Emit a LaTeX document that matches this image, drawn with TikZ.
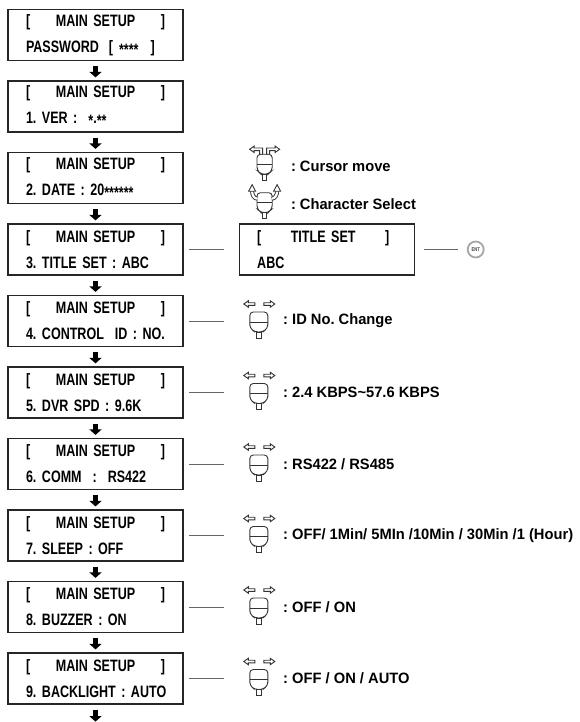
\documentclass[tikz,border=0pt]{standalone}
\usepackage{fontspec}
\setmainfont{Liberation Sans}
\newfontfamily\lcdfont[FakeStretch=0.76, WordSpace=0.9]{Liberation Sans}
\newfontfamily\notefont[FakeStretch=0.98]{Liberation Sans}
\usetikzlibrary{positioning,arrows.meta}
\frenchspacing
\newcommand{\lcdstar}{\raisebox{-3pt}{*}}
\newcommand{\lcdhead}[2][139pt]{\makebox[#1]{[\hfill #2\hfill]}}
\newcommand{\menu}[1]{\lcdhead{MAIN SETUP}\\\mbox{#1}}
\tikzset{
  lcd/.style={draw=black!85, line width=1.2pt, minimum width=175pt, minimum height=51pt,
    text width=139pt, align=left, inner xsep=0pt, font=\lcdfont\bfseries\fontsize{16.5}{26}\selectfont},
  flow/.style={line width=4.5pt, -{Triangle[width=12pt,length=5.5pt]}, shorten <=5pt, shorten >=3pt},
  link/.style={draw=black!60, line width=0.8pt, shorten <=5pt},
  dialbox/.style={minimum width=36pt, minimum height=36pt, inner sep=0pt},
  note/.style={inner sep=0pt, anchor=west, font=\notefont\bfseries\fontsize{15}{17}\selectfont},
  knob/.pic={
    \draw[rounded corners=3.5pt, fill=white] (-9,0) -- (-9,-10) -- (9,-10) -- (9,0) -- (9,6) -- (4,10) -- (-4,10) -- (-9,6) -- cycle;
    \draw (-9,0) -- (9,0);
    \draw[fill=white] (-2.5,10) rectangle (2.5,16);
  },
  leftarrow/.pic={
    \draw[fill=white] (0,0) -- (4.5,-3.2) -- (4.5,-1.3) -- (11,-1.3) -- (11,1.3) -- (4.5,1.3) -- (4.5,3.2) -- cycle;
  },
  jogdial/.pic={
    \begin{scope}[draw=black!80, line width=0.9pt]
      \pic at (0,1) {knob};
      \pic at (-15,-17) {leftarrow};
      \pic[xscale=-1] at (16,-17) {leftarrow};
    \end{scope}
  },
  jogmove/.pic={
    \begin{scope}[draw=black!80, line width=0.9pt]
      \pic[xscale=0.85] at (0,-2) {knob};
      \foreach \s in {1,-1}
        \draw[xscale=\s, fill=white] (-15,-17) -- (-10.5,-20.2) -- (-10.5,-18.3) -- (-2,-18.3) -- (-2,-12)
          -- (-5,-12) -- (-5,-15.7) -- (-10.5,-15.7) -- (-10.5,-13.8) -- cycle;
    \end{scope}
  },
  jogselect/.pic={
    \begin{scope}[draw=black!80, line width=0.9pt]
      \pic[xscale=0.85] at (0,-1) {knob};
      \foreach \s in {1,-1} {
        \draw[xscale=\s, double=white, double distance=2.2pt] (-7,-5) to[out=180, in=-90] (-12.5,-12.5);
        \draw[xscale=\s, fill=white] (-12.5,-19) -- (-16,-12.5) -- (-9,-12.5) -- cycle;
      }
    \end{scope}
  },
}
\begin{document}
\begin{tikzpicture}[x=1pt, y=-1pt]
    \useasboundingbox (0,0) rectangle (580,722);
    % menu column
    \node (s0) [lcd] at (95.5,35) {\menu{PASSWORD\hspace{10pt}[\hspace{6pt}\lcdstar\lcdstar\lcdstar\lcdstar\hspace{12pt}]}};
    \node (s1) [lcd, below=19.3pt of s0] {\menu{1. VER :\ \ \lcdstar.\lcdstar\lcdstar}};
    \node (s2) [lcd, below=19.3pt of s1] {\menu{2. DATE : 20\lcdstar\lcdstar\lcdstar\lcdstar\lcdstar\lcdstar}};
    \node (s3) [lcd, below=19.3pt of s2] {\menu{3. TITLE SET : ABC}};
    \node (s4) [lcd, below=19.3pt of s3] {\menu{4. CONTROL\ \ ID : NO.}};
    \node (s5) [lcd, below=19.3pt of s4] {\menu{5. DVR SPD : 9.6K}};
    \node (s6) [lcd, below=19.3pt of s5] {\menu{6. COMM\ \ :\ \ RS422}};
    \node (s7) [lcd, below=19.3pt of s6] {\menu{7. SLEEP : OFF}};
    \node (s8) [lcd, below=19.3pt of s7] {\menu{8. BUZZER : ON}};
    \node (s9) [lcd, below=19.3pt of s8] {\menu{9. BACKLIGHT : AUTO}};
    \coordinate[below=17pt of s9] (more);
    % title set branch
    \node (title) [lcd, right=55pt of s3] {\lcdhead[132pt]{TITLE SET}\\ABC};
    \node (ent) [circle, draw=black!35, line width=1.8pt, minimum size=16pt, inner sep=0pt, text=black!75,
      font=\lcdfont\bfseries\fontsize{5.5}{6}\selectfont, right=52pt of title] {ENT};
    \node (js) [dialbox, above=1.5pt of title.north west, xshift=26pt] {};
    \node (jc) [dialbox, above=1pt of js] {};
    \node (tc) [note, right=8pt of jc] {: Cursor move};
    \node (ts) [note, right=8pt of js] {: Character Select};
    % value settings
    \node (j4) [dialbox, right=57pt of s4] {};
    \node (d4) [note, right=6pt of j4] {: ID No. Change};
    \node (j5) [dialbox, right=57pt of s5] {};
    \node (d5) [note, right=6pt of j5] {: 2.4 KBPS\textasciitilde57.6 KBPS};
    \node (j6) [dialbox, right=57pt of s6] {};
    \node (d6) [note, right=6pt of j6] {: RS422 / RS485};
    \node (j7) [dialbox, right=57pt of s7] {};
    \node (d7) [note, right=6pt of j7] {: OFF/ 1Min/ 5MIn /10Min / 30Min /1 (Hour)};
    \node (j8) [dialbox, right=57pt of s8] {};
    \node (d8) [note, right=6pt of j8] {: OFF / ON};
    \node (j9) [dialbox, right=57pt of s9] {};
    \node (d9) [note, right=6pt of j9] {: OFF / ON / AUTO};
    % jog dial icons
    \pic at (jc) {jogmove};
    \pic at (js) {jogselect};
    \pic at (j4) {jogdial};
    \pic at (j5) {jogdial};
    \pic at (j6) {jogdial};
    \pic at (j7) {jogdial};
    \pic at (j8) {jogdial};
    \pic at (j9) {jogdial};
    % connect the nodes
    \draw[flow] (s0) -- (s1);
    \draw[flow] (s1) -- (s2);
    \draw[flow] (s2) -- (s3);
    \draw[flow] (s3) -- (s4);
    \draw[flow] (s4) -- (s5);
    \draw[flow] (s5) -- (s6);
    \draw[flow] (s6) -- (s7);
    \draw[flow] (s7) -- (s8);
    \draw[flow] (s8) -- (s9);
    \draw[flow, shorten >=0pt] (s9) -- (more);
    \draw[link, shorten >=15pt] (s3) -- (title);
    \draw[link, shorten <=9pt, shorten >=8.5pt] (title) -- (ent);
    \draw[link, shorten >=17pt] (s4) -- (j4);
    \draw[link, shorten >=17pt] (s5) -- (j5);
    \draw[link, shorten >=17pt] (s6) -- (j6);
    \draw[link, shorten >=17pt] (s7) -- (j7);
    \draw[link, shorten >=17pt] (s8) -- (j8);
    \draw[link, shorten >=17pt] (s9) -- (j9);
\end{tikzpicture}
\end{document}
